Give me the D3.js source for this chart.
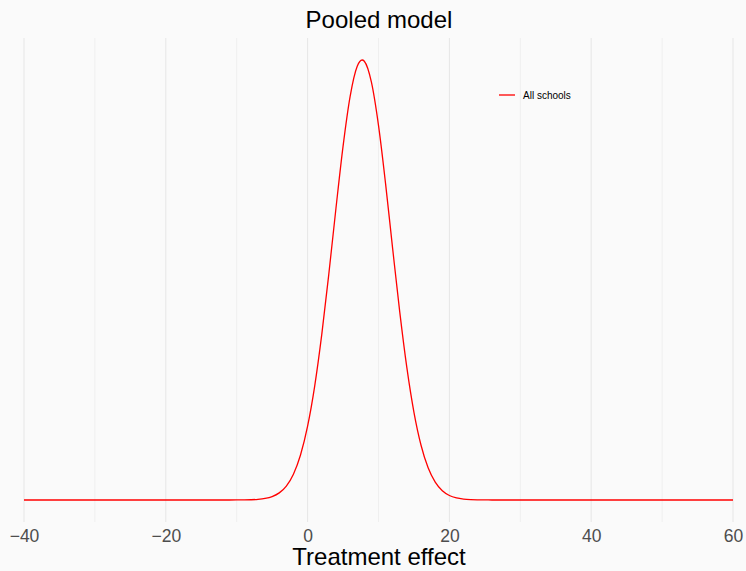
<!DOCTYPE html>
<html>
<head>
<meta charset="utf-8">
<script src="https://cdn.jsdelivr.net/npm/d3@7"></script>
<style>
  html, body { margin: 0; padding: 0; background: #fafafa; }
  svg { display: block; }
</style>
</head>
<body>
<svg id="chart" width="746" height="571"></svg>
<script>
// ---- data (density of pooled treatment effect) ----
const effectX = [-40, -30, -20, -14, -12, -10, -9, -8, -7, -6, -5, -4, -3, -2, -1,
  0, 1, 2, 3, 4, 5, 6, 7, 7.69, 8, 9, 10, 11, 12, 13, 14, 15, 16, 17, 18, 19,
  20, 21, 22, 23, 24, 25, 26, 28, 30, 40, 50, 60];
const densityY = [0, 0, 0, 0, 0.0000005, 0.0000078, 0.0000219, 0.0000581, 0.0001454,
  0.0003424, 0.000759, 0.001585, 0.003114, 0.005759, 0.010031,
  0.016448, 0.025385, 0.036887, 0.050463, 0.064988, 0.078787, 0.089923, 0.096621,
  0.09802, 0.097736, 0.093071, 0.083438, 0.070418, 0.055951, 0.041851, 0.029470,
  0.019535, 0.012193, 0.007163, 0.003963, 0.002063, 0.001011, 0.000467, 0.000203,
  0.0000829, 0.000032, 0.0000116, 0.000004, 0.0000002, 0, 0, 0, 0];
const seriesName = "All schools";
const xTicks = [-40, -20, 0, 20, 40, 60];
const xMinor = [-30, -10, 10, 30, 50];
const titleText = "Pooled model";
const xTitle = "Treatment effect";

const points = effectX.map((x, i) => ({ x, y: densityY[i] }));

const svg = d3.select("#chart");
svg.append("rect").attr("width", 746).attr("height", 571).attr("fill", "#fafafa");

const x = d3.scaleLinear().domain([-40, 60]).range([24, 733]);
const yMax = d3.max(densityY);
const pad = yMax * 0.05;
const y = d3.scaleLinear().domain([-pad, yMax + pad]).range([522, 38]);

const grid = svg.append("g");
grid.selectAll("line.minor").data(xMinor).join("line")
  .attr("class", "minor")
  .attr("x1", d => x(d)).attr("x2", d => x(d))
  .attr("y1", 38).attr("y2", 522)
  .attr("stroke", "#efefef").attr("stroke-width", 1);
grid.selectAll("line.major").data(xTicks).join("line")
  .attr("class", "major")
  .attr("x1", d => x(d)).attr("x2", d => x(d))
  .attr("y1", 38).attr("y2", 522)
  .attr("stroke", "#e6e6e6").attr("stroke-width", 1);

// axis labels
const axis = d3.axisBottom(x).tickValues(xTicks).tickSize(0).tickPadding(0)
  .tickFormat(d => d3.format("")(d).replace("-", "\u2212"));
const ag = svg.append("g").attr("transform", "translate(0,530)").call(axis);
ag.select(".domain").remove();
ag.selectAll("text")
  .attr("font-family", "Liberation Sans, Arial, sans-serif")
  .attr("font-size", 17.5)
  .attr("fill", "#4d4d4d")
  .attr("dy", "0.71em");

// curve
const line = d3.line().x(d => x(d.x)).y(d => y(d.y)).curve(d3.curveMonotoneX);
svg.append("path").datum(points)
  .attr("d", line)
  .attr("fill", "none")
  .attr("stroke", "#ff0000")
  .attr("stroke-width", 1.3);

// title
svg.append("text").attr("x", 379).attr("y", 28)
  .attr("text-anchor", "middle")
  .attr("font-family", "Liberation Sans, Arial, sans-serif")
  .attr("font-size", 24).attr("fill", "#000")
  .text(titleText);

// x title
svg.append("text").attr("x", 379).attr("y", 565)
  .attr("text-anchor", "middle")
  .attr("font-family", "Liberation Sans, Arial, sans-serif")
  .attr("font-size", 24).attr("fill", "#000")
  .text(xTitle);

// legend
const lg = svg.append("g").attr("transform", "translate(499,95)");
lg.append("line").attr("x1", 0).attr("x2", 16).attr("y1", 0).attr("y2", 0)
  .attr("stroke", "#ff0000").attr("stroke-width", 1.3);
lg.append("text").attr("x", 24).attr("y", 4)
  .attr("font-family", "Liberation Sans, Arial, sans-serif")
  .attr("font-size", 10).attr("fill", "#000")
  .text(seriesName);
</script>
</body>
</html>
